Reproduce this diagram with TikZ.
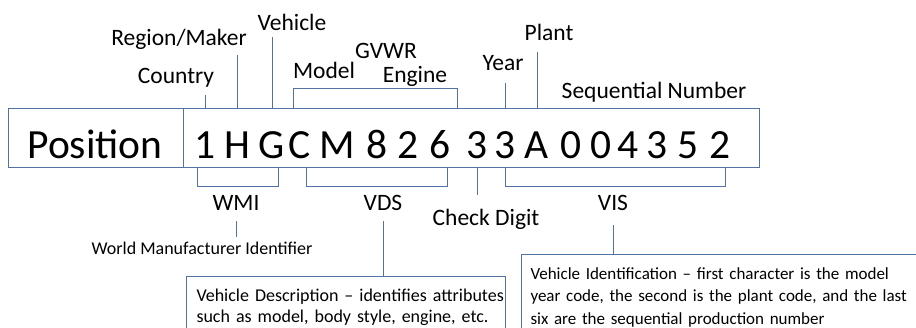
\documentclass[tikz,border=0pt]{standalone}
\usepackage{fontspec}
\setmainfont{Carlito}
\definecolor{vinblue}{RGB}{80,114,165}
\begin{document}
\begin{tikzpicture}[x=1pt,y=-1pt,
    link/.style={vinblue,line width=1pt},
    tag/.style={font=\fontsize{23.5}{28}\selectfont,anchor=base,inner sep=0pt},
    digit/.style={font=\fontsize{41.5}{48}\selectfont,anchor=base,inner sep=0pt},
    small/.style={font=\fontsize{18}{22}\selectfont,anchor=base,inner sep=0pt},
    note/.style={link,draw,fill=white,anchor=north west,align=left,text=black,
      font=\fontsize{18}{21.5}\selectfont,inner xsep=0pt,inner ysep=12pt}]
  \useasboundingbox (0,0) rectangle (916,327);
  \clip (0,0) rectangle (916,327);
  % the VIN strip
  \node[link,draw,minimum width=751pt,minimum height=59pt,inner sep=0pt] (strip) at (383.5,137.5) {};
  \draw[link] (183,0 |- strip.north) -- (183,0 |- strip.south);
  \node[digit] (pos) at (95,158) {Position};
  \foreach \ch/\x [count=\i] in {1/205,H/237,G/272,C/300,M/337,8/377,2/408,6/440,3/477,3/505,A/537,0/571,0/601,4/628,3/657,5/688,2/720}
    \node[digit] (d\i) at (\x,158) {\ch};
  % labels above
  \node[tag] (country) at (176,83) {Country};
  \node[tag] (region) at (179,45) {Region/Maker};
  \node[tag] (vehicle) at (292,30) {Vehicle};
  \node[tag] (gvwr) at (386,58) {GVWR};
  \node[tag] (model) at (324,78) {Model};
  \node[tag] (engine) at (415,82) {Engine};
  \node[tag] (year) at (503,70) {Year};
  \node[tag] (plant) at (549,40) {Plant};
  \node[tag] (seq) at (654,98) {Sequential Number};
  \draw[link] (d1 |- strip.north) -- ([yshift=-12pt]country.base -| d1);
  \draw[link] (d2 |- strip.north) -- ([yshift=-10pt]region.base -| d2);
  \draw[link] (d3 |- strip.north) -- ([yshift=-7pt]vehicle.base -| d3);
  \draw[link] (d10 |- strip.north) -- ([yshift=-13pt]year.base -| d10);
  \draw[link] (d11 |- strip.north) -- ([yshift=-12pt]plant.base -| d11);
  \draw[link] ([xshift=-7pt]d4.center |- strip.north) -- ++(0,-19) -| ([xshift=17pt]d8.center |- strip.north);
  % labels below
  \node[tag] (wmi) at (236,210) {WMI};
  \node[tag] (vds) at (383,210) {VDS};
  \node[tag] (chk) at (486,225) {Check Digit};
  \node[tag] (vis) at (613,210) {VIS};
  \node[small] (wminame) at (202,254) {World Manufacturer Identifier};
  \draw[link] ([xshift=-8pt]d1.center |- strip.south) -- ++(0,19) -| ([xshift=6pt]d3.center |- strip.south);
  \draw[link] ([xshift=6pt]d4.center |- strip.south) -- ++(0,19) -| ([xshift=7pt]d8.center |- strip.south);
  \draw[link] (d10.center |- strip.south) -- ++(0,19) -| ([xshift=5pt]d17.center |- strip.south);
  \draw[link] (d9 |- strip.south) -- ([yshift=13pt]chk.north -| d9);
  % notes
  \node[note,text width=319pt] (vdsnote) at (186,276)
    {\hspace*{10pt}Vehicle Description -- identifies attributes\\
     \hspace*{10pt}such as model, body style, engine, etc.};
  \node[note,text width=420pt,inner ysep=13pt,font=\fontsize{17}{22.5}\selectfont] (visnote) at (521,254)
    {\hspace*{9pt}Vehicle Identification -- first character is the model\\
     \hspace*{9pt}year code, the second is the plant code, and the last\\
     \hspace*{9pt}six are the sequential production number};
  \draw[link] (wmi.base) ++(0,11) -- ([yshift=4pt]wminame.north -| wmi);
  \draw[link] (vds.base) ++(0,11) -- (vds |- vdsnote.north);
  \draw[link] (vis.base) ++(0,15) -- (vis |- visnote.north);
\end{tikzpicture}
\end{document}
